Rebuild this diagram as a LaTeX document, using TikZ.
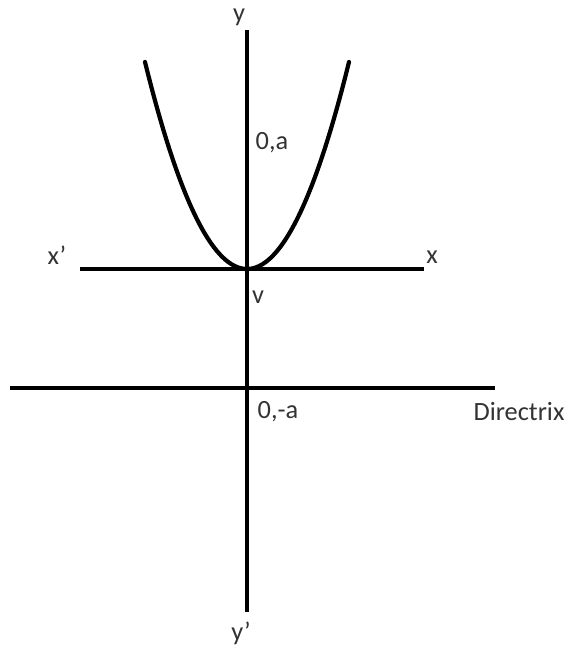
\documentclass[tikz,border=0pt]{standalone}
\usepackage{fontspec}
\setmainfont{Carlito}
\usepackage{xcolor}

\begin{document}
\begin{tikzpicture}[
  x=0.02cm, y=-0.02cm,
  axis/.style={line width=2.4pt},
  curve/.style={line width=2.4pt,line cap=round},
  lbl/.style={inner sep=0pt,text=black!80,font=\fontsize{15}{17}\selectfont}
]
  \useasboundingbox (0,0) rectangle (572,646);
  \coordinate (ytop) at (247,30);
  \coordinate (ybot) at (247,612);
  \coordinate (xl) at (80,269);
  \coordinate (xr) at (424,269);
  \coordinate (dl) at (10,388);
  \coordinate (dr) at (495,388);
  \coordinate (v) at (247,269);
  \node[lbl] (ly) at (239,17) {y};
  \node[lbl] (lyp) at (241,633) {y’};
  \node[lbl] (lxp) at (57,255) {x’};
  \node[lbl] (lx) at (432,257) {x};
  \node[lbl] (lv) at (258,297) {v};
  \node[lbl] (lfa) at (272,143) {0,a};
  \node[lbl] (lma) at (278,412) {0,-a};
  \node[lbl] (ldir) at (519,412) {Directrix};
  \draw[axis] (ytop) -- (ybot);
  \draw[axis] (xl) -- (xr);
  \draw[axis] (dl) -- (dr);
  \draw[curve] plot[domain=-102:102,samples=60,smooth] ({247+\x},{269-0.0199*\x*\x});
\end{tikzpicture}
\end{document}
